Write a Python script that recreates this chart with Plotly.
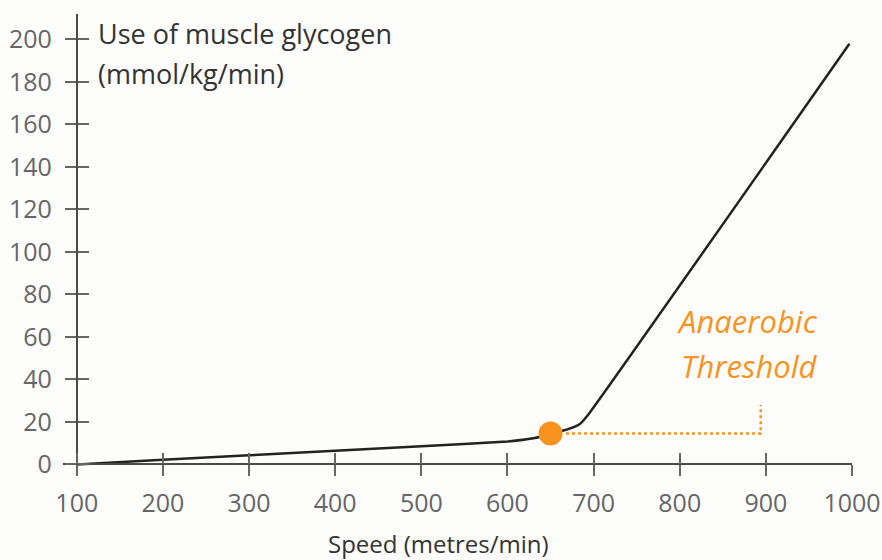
import plotly.graph_objects as go

# speed (metres/min) vs muscle glycogen use (mmol/kg/min)
speed = [100, 200, 300, 400, 500, 600, 630, 655, 672, 684, 693, 997]
glycogen = [0, 2.2, 4.3, 6.4, 8.5, 10.8, 12.3, 14.8, 16.8, 19.0, 23.0, 198]

threshold_speed = [650]
threshold_use = [14.5]
guide_x = [668, 894, 894]
guide_y = [14.5, 14.5, 28]

x_ticks = [100, 200, 300, 400, 500, 600, 700, 800, 900, 1000]
y_ticks = [0, 20, 40, 60, 80, 100, 120, 140, 160, 180, 200]

ORANGE = "#f7931e"
FONT = "Open Sans, sans-serif"
X_RANGE = [84, 1000]
Y_RANGE = [-5, 212]

fig = go.Figure()
fig.add_trace(go.Scatter(x=speed, y=glycogen, mode="lines",
                         line=dict(color="#222", width=2.5, shape="spline", smoothing=0.4),
                         hoverinfo="skip"))
fig.add_trace(go.Scatter(x=guide_x, y=guide_y, mode="lines",
                         line=dict(color=ORANGE, width=2.5, dash="dot"), hoverinfo="skip"))
fig.add_trace(go.Scatter(x=threshold_speed, y=threshold_use, mode="markers",
                         marker=dict(color=ORANGE, size=24), hoverinfo="skip"))

ypos = (100 - X_RANGE[0]) / (X_RANGE[1] - X_RANGE[0])
xpos = (0 - Y_RANGE[0]) / (Y_RANGE[1] - Y_RANGE[0])
tick_font = dict(family=FONT, size=25, color="#666")

axis_common = dict(showgrid=False, zeroline=False, ticklen=11, tickwidth=1.5,
                   tickcolor="#666", fixedrange=True, automargin=False)

fig.update_layout(
    width=882, height=560,
    margin=dict(l=63, r=30, t=14, b=85),
    paper_bgcolor="#fdfdfc", plot_bgcolor="#fdfdfc",
    showlegend=False,
    font=dict(family=FONT, color="#333"),
    xaxis=dict(range=X_RANGE, tickvals=x_ticks, ticks="outside",
               showline=True, linecolor="#4a4a4a", linewidth=2,
               anchor="free", position=xpos, tickfont=tick_font,
               ticklabelstandoff=6, **axis_common),
    yaxis=dict(range=Y_RANGE, tickvals=y_ticks, ticks="outside",
               showline=True, linecolor="#4a4a4a", linewidth=2,
               anchor="free", position=ypos, tickfont=tick_font,
               ticklabelstandoff=8, **axis_common),
    # second copies of the axes give the ticks that cross the axis line
    xaxis2=dict(range=X_RANGE, tickvals=x_ticks, ticks="inside", overlaying="x",
                anchor="free", position=xpos, showticklabels=False,
                showline=False, **axis_common),
    yaxis2=dict(range=Y_RANGE, tickvals=y_ticks, ticks="inside", overlaying="y",
                anchor="free", position=ypos, showticklabels=False,
                showline=False, **axis_common),
)
# invisible trace to make the overlay axes render
fig.add_trace(go.Scatter(x=[x_ticks[0]], y=[y_ticks[0]], xaxis="x2", yaxis="y2",
                         mode="markers", marker=dict(opacity=0), hoverinfo="skip"))

title_font = dict(family=FONT, size=27, color="#333")
fig.add_annotation(text="Use of muscle glycogen", xref="x", yref="y",
                   x=122, y=203, xanchor="left", yanchor="middle",
                   showarrow=False, font=title_font)
fig.add_annotation(text="(mmol/kg/min)", xref="x", yref="y",
                   x=122, y=184, xanchor="left", yanchor="middle",
                   showarrow=False, font=title_font)
fig.add_annotation(text="Speed (metres/min)", xref="paper", yref="paper",
                   x=0.476, y=-0.148, xanchor="center", yanchor="middle",
                   showarrow=False, font=dict(family=FONT, size=24, color="#333"))
fig.add_annotation(text="<i>Anaerobic</i>", xref="x", yref="y", x=879, y=67.5,
                   showarrow=False, font=dict(family=FONT, size=31, color=ORANGE))
fig.add_annotation(text="<i>Threshold</i>", xref="x", yref="y", x=881, y=46.5,
                   showarrow=False, font=dict(family=FONT, size=31, color=ORANGE))

# the page's default body margin would push the figure 8px off the window
fig.write_html("out.html", config={"displayModeBar": False},
               post_script="document.body.style.margin = '0';")
